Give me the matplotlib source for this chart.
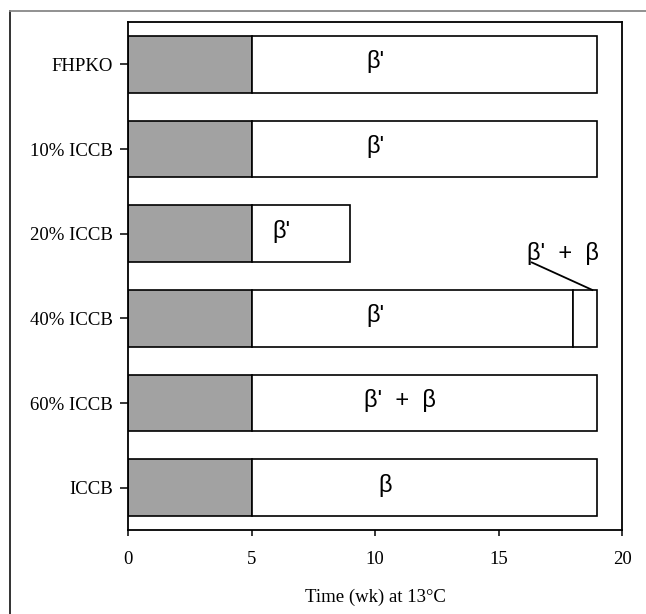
import matplotlib
matplotlib.use("Agg")
import matplotlib.pyplot as plt
from matplotlib.lines import Line2D

# Data (top to bottom)
categories = ['FHPKO', '10% ICCB', '20% ICCB', '40% ICCB', '60% ICCB', 'ICCB']
induction = [5, 5, 5, 5, 5, 5]              # shaded segment end (wk)
phase1_end = [19, 19, 9, 18, 19, 19]        # first white segment end
phase2_end = [19, 19, 9, 19, 19, 19]        # second white segment end
phase_labels = ["β'", "β'", "β'", "β'", "β'  +  β", "β"]
label_x = [10, 10, 6.2, 10, 11, 10.4]
annot_text = "β'  +  β"
xticks = [0, 5, 10, 15, 20]

fig = plt.figure(figsize=(6.46, 6.14), dpi=100)
ax = fig.add_axes([128/646, 1-530/614, (622-128)/646, (530-22)/614])

n = len(categories)
ypos = [n - 1 - i for i in range(n)]
h = 0.67
lw = 1.2
gray = '#a2a2a2'

for i, y in enumerate(ypos):
    ax.barh(y, induction[i], left=0, height=h, color=gray, edgecolor='black', linewidth=lw, zorder=2)
    ax.barh(y, phase1_end[i] - induction[i], left=induction[i], height=h, color='white',
            edgecolor='black', linewidth=lw, zorder=2)
    if phase2_end[i] > phase1_end[i]:
        ax.barh(y, phase2_end[i] - phase1_end[i], left=phase1_end[i], height=h, color='white',
                edgecolor='black', linewidth=lw, zorder=2)
    ax.text(label_x[i], y + 0.03, phase_labels[i], ha='center', va='center',
            fontsize=17, family='Liberation Sans', zorder=3)

# annotation for 40% ICCB
yi = ypos[3]
ax.text(17.6, yi + 0.77, annot_text, ha='center', va='center', fontsize=17,
        family='Liberation Sans', zorder=3)
ax.plot([16.35, 18.8], [yi + 0.66, yi + h/2], color='black', lw=1.3, zorder=3)

ax.set_xlim(0, 20)
ax.set_ylim(-0.5, n - 0.5)
ax.set_yticks(ypos)
ax.set_yticklabels(categories, family='Liberation Serif', fontsize=13.5)
ax.set_xticks(xticks)
ax.set_xticklabels([str(t) for t in xticks], family='Liberation Serif', fontsize=13.5)
ax.tick_params(axis='y', direction='out', length=6, width=1.1, pad=5)
ax.tick_params(axis='x', direction='out', length=4, width=1.1, pad=11)
for s in ax.spines.values():
    s.set_linewidth(1.3)
ax.set_xlabel('Time (wk) at 13°C', family='Liberation Serif', fontsize=13.5, labelpad=15)

# outer frame
fx = 10/646
fy = 1 - 11/614
fig.add_artist(Line2D([fx, fx], [0, fy], transform=fig.transFigure, color='#222222', lw=1.3))
fig.add_artist(Line2D([fx, 1], [fy, fy], transform=fig.transFigure, color='#888888', lw=1.3))

fig.savefig('out.png', dpi=100)
